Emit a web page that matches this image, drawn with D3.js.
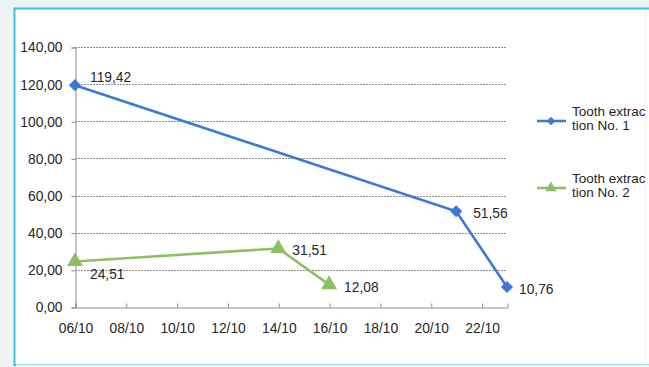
<!DOCTYPE html>
<html>
<head>
<meta charset="utf-8">
<script src="https://cdn.jsdelivr.net/npm/d3@7/dist/d3.min.js"></script>
<style>
  html, body { margin: 0; padding: 0; background: #eef3f5; }
  svg { display: block; font-family: "Liberation Sans", Arial, sans-serif; }
</style>
</head>
<body>
<svg id="chart" width="649" height="367"></svg>
<script>
// Measurement dates (day/month) and values for each extraction
const dates1 = ["06/10", "21/10", "23/10"];
const values1 = [119.42, 51.56, 10.76];
const dates2 = ["06/10", "14/10", "16/10"];
const values2 = [24.51, 31.51, 12.08];
const seriesNames = ["Tooth extrac\ntion No. 1", "Tooth extrac\ntion No. 2"];
const yTicks = [0, 20, 40, 60, 80, 100, 120, 140];
const xTickLabels = ["06/10", "08/10", "10/10", "12/10", "14/10", "16/10", "18/10", "20/10", "22/10"];
const xDomain = ["06/10", "23/10"];

const blue = "#3b78d8";
const green = "#8cc063";
const textColor = "#262626";
const fontFamily = "'Liberation Sans', Arial, sans-serif";
const fontSize = 13.8;

const parse = d3.timeParse("%d/%m/%Y");
const toDate = s => parse(s + "/2012");
const fmtNum = v => d3.format(".2f")(v).replace(".", ",");

const svg = d3.select("#chart");

// Chart frame
svg.append("rect").attr("x", 14.5).attr("y", 8.5).attr("width", 660).attr("height", 356.5)
  .attr("fill", "#ffffff").attr("stroke", "#3ec3e3").attr("stroke-width", 2);
svg.append("line").attr("x1", 645.5).attr("x2", 645.5).attr("y1", 10).attr("y2", 365)
  .attr("stroke", "#f1f3f1").attr("stroke-width", 1);
svg.append("line").attr("x1", 16).attr("x2", 649).attr("y1", 365.5).attr("y2", 365.5)
  .attr("stroke", "#f3f6e6").attr("stroke-width", 2);

const x = d3.scaleTime().domain(xDomain.map(toDate)).range([75, 507]);
const y = d3.scaleLinear().domain([0, 140]).range([307, 47]);

// Horizontal gridlines
svg.append("g").selectAll("line").data(yTicks.filter(t => t > 0)).join("line")
  .attr("x1", 75).attr("x2", 507)
  .attr("y1", d => Math.round(y(d)) + 0.5).attr("y2", d => Math.round(y(d)) + 0.5)
  .attr("stroke", "#8c8c8c").attr("stroke-width", 1).attr("stroke-dasharray", "2,1");

// Y axis
const yAxis = d3.axisLeft(y).tickValues(yTicks).tickFormat(fmtNum).tickSize(4).tickPadding(9);
const gy = svg.append("g").attr("transform", "translate(75.5,0.5)").call(yAxis)
  .attr("font-family", fontFamily).attr("font-size", fontSize);
gy.select(".domain").attr("stroke", "#8c8c8c");
gy.selectAll(".tick line").attr("stroke", "#8c8c8c");
gy.selectAll("text").attr("fill", textColor);

// X axis
const xAxis = d3.axisBottom(x).tickValues(xTickLabels.map(toDate))
  .tickFormat(d3.timeFormat("%d/%m")).tickSize(-4).tickPadding(16);
const gx = svg.append("g").attr("transform", "translate(0.5,307.5)").call(xAxis)
  .attr("font-family", fontFamily).attr("font-size", fontSize);
gx.select(".domain").attr("stroke", "#8c8c8c");
gx.selectAll(".tick line").attr("stroke", "#8c8c8c");
gx.selectAll("text").attr("fill", textColor);

const line = d3.line().x(d => x(d.date)).y(d => y(d.value));
const s1 = dates1.map((d, i) => ({ date: toDate(d), value: values1[i] }));
const s2 = dates2.map((d, i) => ({ date: toDate(d), value: values2[i] }));

const diamond = d3.symbol().type(d3.symbolDiamond2).size(95);
const triangle = d3.symbol().type(d3.symbolTriangle).size(110);

function drawSeries(data, color, sym) {
  svg.append("path").datum(data).attr("d", line)
    .attr("fill", "none").attr("stroke", color).attr("stroke-width", 2.6);
  svg.append("g").selectAll("path").data(data).join("path")
    .attr("d", sym)
    .attr("transform", d => `translate(${x(d.date)},${y(d.value)})`)
    .attr("fill", color);
}
drawSeries(s1, blue, diamond);
drawSeries(s2, green, triangle);

// Data labels
const labelOffsets1 = [[15, -3], [17, 7], [12, 7]];
const labelOffsets2 = [[15, 18], [14, 7], [15, 7]];
function drawLabels(data, offs) {
  svg.append("g").selectAll("text").data(data).join("text")
    .attr("x", (d, i) => x(d.date) + offs[i][0])
    .attr("y", (d, i) => y(d.value) + offs[i][1])
    .attr("font-size", fontSize).attr("fill", textColor)
    .text(d => fmtNum(d.value));
}
drawLabels(s1, labelOffsets1);
drawLabels(s2, labelOffsets2);

// Legend
const legend = [
  { name: seriesNames[0], color: blue, sym: d3.symbol().type(d3.symbolDiamond2).size(45), cy: 121 },
  { name: seriesNames[1], color: green, sym: d3.symbol().type(d3.symbolTriangle).size(55), cy: 188 }
];
legend.forEach(l => {
  svg.append("line").attr("x1", 537).attr("x2", 566).attr("y1", l.cy).attr("y2", l.cy)
    .attr("stroke", l.color).attr("stroke-width", 2.6);
  svg.append("path").attr("d", l.sym).attr("transform", `translate(551,${l.cy})`).attr("fill", l.color);
  const t = svg.append("text").attr("font-size", 13.5).attr("fill", textColor);
  l.name.split("\n").forEach((part, i) => {
    t.append("tspan").attr("x", 572).attr("y", l.cy - 5 + i * 13.5).text(part);
  });
});
</script>
</body>
</html>
